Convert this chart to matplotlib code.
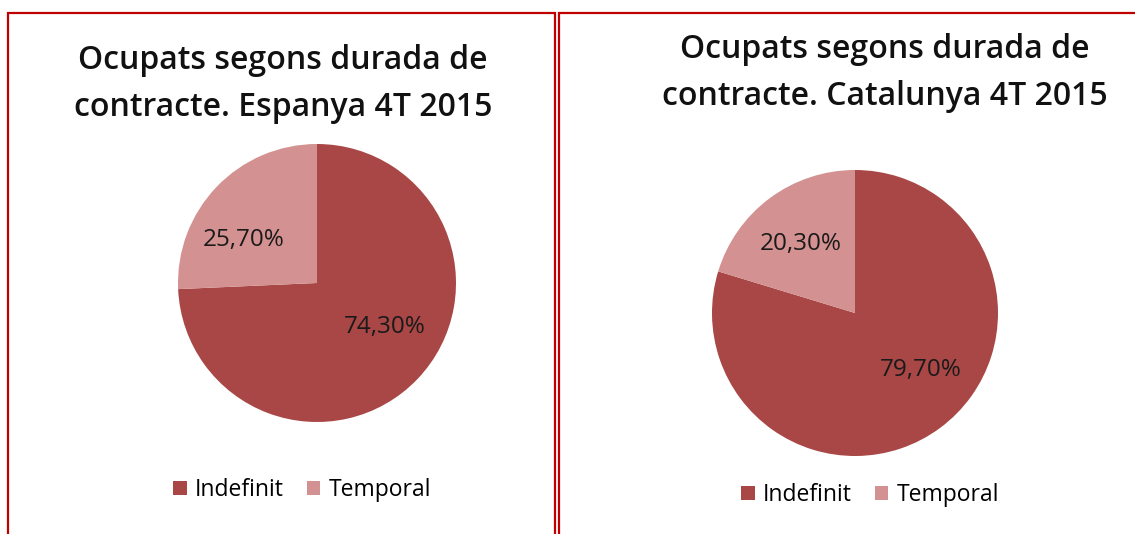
import matplotlib
matplotlib.use("Agg")
import matplotlib.pyplot as plt
from matplotlib.patches import Rectangle

plt.rcParams['font.family'] = ['Open Sans', 'DejaVu Sans']

categories = ['Indefinit', 'Temporal']
espanya = [74.3, 25.7]
catalunya = [79.7, 20.3]
titles = ['Ocupats segons durada de\ncontracte. Espanya 4T 2015',
          'Ocupats segons durada de\ncontracte. Catalunya 4T 2015']
colors = ['#A84745', '#D39291']

W, H = 1135, 534
fig = plt.figure(figsize=(W / 100, H / 100), dpi=100)

def px_axes(cx, cy, r):
    return fig.add_axes([(cx - r) / W, 1 - (cy + r) / H, 2 * r / W, 2 * r / H])

def fmt(v):
    return ('%.2f' % v).replace('.', ',') + '%'

# panel borders
fig.patches.append(Rectangle((8 / W, -0.1), (555 - 8) / W, 1.1 - 13 / H,
                             transform=fig.transFigure, fill=False,
                             edgecolor='#C00000', lw=1.6))
fig.patches.append(Rectangle((559 / W, -0.1), 0.6, 1.1 - 13 / H,
                             transform=fig.transFigure, fill=False,
                             edgecolor='#C00000', lw=1.6))

panels = [
    (espanya, titles[0], (317, 283, 139), (283, 84), [(0.49, -0.32), (-0.53, 0.31)], (302, 490)),
    (catalunya, titles[1], (855, 313, 143), (885, 73), [(0.46, -0.40), (-0.38, 0.48)], (870, 495)),
]

for vals, title, (cx, cy, r), (tx, ty), lpos, (lx, ly) in panels:
    ax = px_axes(cx, cy, r)
    wedges, texts = ax.pie(vals, colors=colors, startangle=90, counterclock=False,
                           radius=1, wedgeprops=dict(linewidth=0))
    ax.set_xlim(-1, 1)
    ax.set_ylim(-1, 1)
    ax.set_aspect('equal')
    for v, (x, y) in zip(vals, lpos):
        ax.text(x, y, fmt(v), ha='center', va='center', fontsize=17.5, color='#1a1a1a')
    fig.text(tx / W, 1 - ty / H, title, ha='center', va='center', fontsize=23,
             fontweight='semibold', linespacing=1.55, color='#111111')
    fig.legend(wedges, categories, loc='center', bbox_to_anchor=(lx / W, 1 - ly / H),
               ncol=2, frameon=False, fontsize=16.5, handlelength=0.6, handleheight=0.6,
               handletextpad=0.35, columnspacing=1.0)

fig.savefig('out.png', dpi=100)
